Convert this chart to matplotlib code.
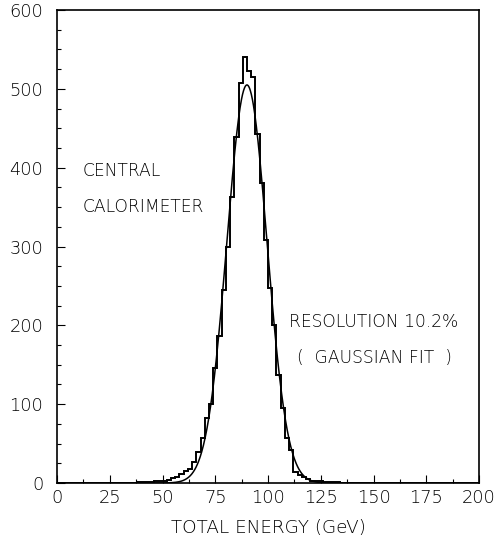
import numpy as np
import matplotlib
matplotlib.use("Agg")
import matplotlib.pyplot as plt
from matplotlib.ticker import MultipleLocator

# histogram: 2 GeV bins, counts
bin_edges = np.arange(0, 202, 2)
bin_centers = [39, 41, 43, 45, 47, 49, 51, 53, 55, 57, 59, 61, 63, 65, 67, 69, 71, 73, 75, 77, 79,
               81, 83, 85, 87, 89, 91, 93, 95, 97, 99, 101, 103, 105, 107, 109, 111, 113, 115,
               117, 119, 121, 123, 125, 127, 129, 131, 133]
bin_counts = [1, 1, 1, 1, 2, 2, 3, 4, 6, 8, 11, 15, 18, 27, 39, 57, 82, 100, 146, 187, 245,
              300, 363, 439, 507, 541, 523, 515, 443, 381, 308, 247, 200, 137, 95, 57, 42, 14, 10,
              8, 5, 3, 2, 2, 1, 1, 1, 1]

# gaussian fit parameters
fit_mean = 90.0
fit_sigma = 9.5
fit_peak = 505.0

plt.rcParams['font.family'] = ['DejaVu Sans']

fig = plt.figure(figsize=(4.98, 5.43), dpi=100)
ax = fig.add_axes([0.1145, 0.1105, 0.8475, 0.871])

counts = np.zeros(len(bin_edges) - 1)
for c, n in zip(bin_centers, bin_counts):
    counts[int(c // 2)] = n
ax.stairs(counts, bin_edges, color='black', linewidth=1.4)

xf = np.linspace(40, 140, 600)
yf = fit_peak * np.exp(-(xf - fit_mean) ** 2 / (2 * fit_sigma ** 2))
ax.plot(xf, yf, color='black', linewidth=1.1)

ax.set_xlim(0, 200)
ax.set_ylim(0, 600)
ax.xaxis.set_major_locator(MultipleLocator(25))
ax.xaxis.set_minor_locator(MultipleLocator(12.5))
ax.yaxis.set_major_locator(MultipleLocator(100))
ax.yaxis.set_minor_locator(MultipleLocator(25))
ax.tick_params(which='both', direction='in', labelsize=12.8, width=0.8)
ax.tick_params(which='major', length=6)
ax.tick_params(which='minor', length=3)
ax.tick_params(axis='y', pad=10)
ax.tick_params(axis='x', pad=4)
for lab in ax.get_xticklabels() + ax.get_yticklabels():
    lab.set_fontweight('light')
for s in ax.spines.values():
    s.set_linewidth(1.2)

ax.set_xlabel('TOTAL ENERGY (GeV)', fontsize=13.2, labelpad=9, fontweight='light')

txt = dict(fontsize=12.3, va='center', ha='left', fontweight='light')
ax.text(12.3, 396, 'CENTRAL', **txt)
ax.text(12.3, 350, 'CALORIMETER', **txt)
ax.text(110, 204, 'RESOLUTION 10.2%', **txt)
ax.text(113.5, 158, '(  GAUSSIAN FIT  )', **txt)

fig.savefig('out.png', dpi=100)
